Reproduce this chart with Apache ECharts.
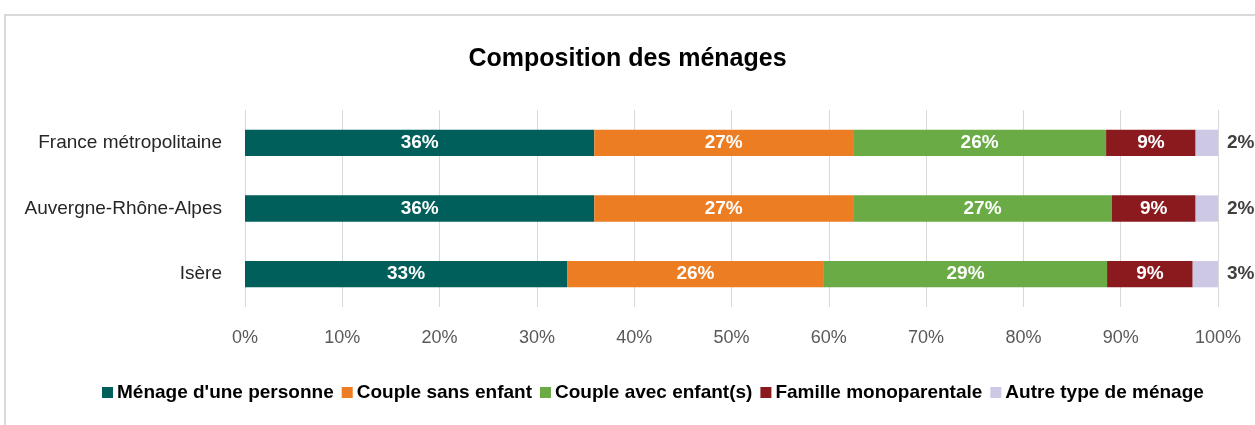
<!DOCTYPE html>
<html lang="fr">
<head>
    <meta charset="utf-8">
    <title>Composition des ménages</title>
    <script src="https://cdn.jsdelivr.net/npm/echarts@6/dist/echarts.min.js"></script>
    <style>
        body {margin: 0; background: #fff;}
        #frame {position: absolute; left: 4px; top: 14px; width: 1251px; height: 411px;
                border-top: 2px solid #d9d9d9; border-left: 2px solid #d9d9d9; box-sizing: border-box;}
        #main {position: absolute; left: 0; top: 0; width: 1255px; height: 425px;}
    </style>
</head>
<body>
<div id="frame"></div>
<div id="main"></div>

<script type="text/javascript">
    // données
    var categories = ['France métropolitaine', 'Auvergne-Rhône-Alpes', 'Isère'];
    var seriesNames = ["Ménage d'une personne", 'Couple sans enfant', 'Couple avec enfant(s)', 'Famille monoparentale', 'Autre type de ménage'];
    var unePersonne = [35.9, 35.9, 33.1];
    var coupleSansEnfant = [26.6, 26.6, 26.4];
    var coupleAvecEnfants = [26.0, 26.6, 29.1];
    var familleMono = [9.2, 8.6, 8.8];
    var autreType = [2.3, 2.3, 2.6];
    var tickLabels = ['0%', '10%', '20%', '30%', '40%', '50%', '60%', '70%', '80%', '90%', '100%'];

    var colors = ['#005e5b', '#ed7d22', '#6aab45', '#8b1a1e', '#cdc9e5'];
    var font = "'Liberation Sans Narrow', 'Arial Narrow', sans-serif";
    var allData = [unePersonne, coupleSansEnfant, coupleAvecEnfants, familleMono, autreType];

    var series = allData.map(function (d, i) {
        var last = i === allData.length - 1;
        return {
            name: seriesNames[i],
            type: 'bar',
            stack: 'total',
            barCategoryGap: '60%',
            data: d,
            itemStyle: {color: colors[i]},
            label: {
                show: true,
                position: last ? 'right' : 'inside',
                distance: last ? 9 : 5,
                color: last ? '#404040' : '#fff',
                fontFamily: font,
                fontWeight: 'bold',
                fontSize: 19,
                formatter: function (p) { return Math.round(p.value) + '%'; }
            }
        };
    });

    var myChart = echarts.init(document.getElementById('main'));
    var option = {
        animation: false,
        color: colors,
        title: {
            text: 'Composition des ménages',
            left: 'center',
            top: 42,
            textStyle: {fontFamily: font, fontWeight: 'bold', fontSize: 25, color: '#000'}
        },
        legend: {
            bottom: 18,
            left: 97,
            itemWidth: 11,
            itemHeight: 11,
            itemGap: 8,
            icon: 'rect',
            textStyle: {fontFamily: font, fontWeight: 'bold', fontSize: 19, color: '#000', padding: [0, 0, 0, -1]},
            data: seriesNames
        },
        grid: {left: 245, right: 37, top: 110, bottom: 118},
        xAxis: {
            type: 'value',
            min: 0,
            max: 100,
            interval: 10,
            axisLine: {show: false},
            axisTick: {show: false},
            splitLine: {lineStyle: {color: '#d9d9d9', width: 1}},
            axisLabel: {
                margin: 22,
                color: '#595959',
                fontFamily: font,
                fontSize: 18,
                formatter: function (v) { return tickLabels[Math.round(v / 10)]; }
            }
        },
        yAxis: {
            type: 'category',
            inverse: true,
            data: categories,
            axisLine: {show: false},
            axisTick: {show: false},
            axisLabel: {margin: 23, color: '#262626', fontFamily: font, fontSize: 19}
        },
        series: series
    };
    myChart.setOption(option);
</script>
</body>
</html>
